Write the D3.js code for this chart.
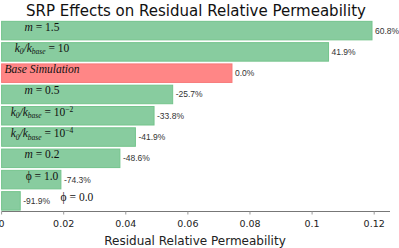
<!DOCTYPE html>
<html><head><meta charset="utf-8">
<script src="https://cdn.jsdelivr.net/npm/d3@7"></script>
<style>body{margin:0;background:#fff}svg{display:block}</style>
</head><body>
<svg id="c" width="399" height="248"></svg>
<script>
const categories = ["m15","k10","base","m05","k1e-2","k1e-4","m02","phi1","phi0"];
const labelParts = [
  [["m = 1.5",""]],
  [["k","i"],["0","sub"],["/k","i"],["base","sub"],[" = 10",""]],
  [["Base Simulation","i"]],
  [["m = 0.5",""]],
  [["k","i"],["0","sub"],["/k","i"],["base","sub"],[" = 10",""],["−2","sup"]],
  [["k","i"],["0","sub"],["/k","i"],["base","sub"],[" = 10",""],["−4","sup"]],
  [["m = 0.2",""]],
  [["ϕ = 1.0",""]],
  [["ϕ = 0.0",""]]
];
const values = [0.1193, 0.1053, 0.0742, 0.0551, 0.0491, 0.0431, 0.0381, 0.0191, 0.0060];
const changeLabels = ["60.8%","41.9%","0.0%","-25.7%","-33.8%","-41.9%","-48.6%","-74.3%","-91.9%"];
const isBase = [false,false,true,false,false,false,false,false,false];
const tickValues = [0,0.02,0.04,0.06,0.08,0.1,0.12];
const tickLabels = ["0","0.02","0.04","0.06","0.08","0.1","0.12"];
const title = "SRP Effects on Residual Relative Permeability";
const xTitle = "Residual Relative Permeability";

const svg = d3.select("#c");
const x = d3.scaleLinear().domain([0,0.125]).range([1.6, 389.7]);
const y = d3.scaleBand().domain(categories).range([20.5, 211]).paddingInner(0.13).paddingOuter(0.04);

svg.append("text").attr("x",196).attr("y",15.5).attr("text-anchor","middle")
  .attr("font-family","DejaVu Sans").attr("font-size",15).attr("fill","#111").text(title);

const g = svg.append("g");
g.selectAll("rect").data(values).join("rect")
  .attr("x", x(0)).attr("y",(d,i)=>y(categories[i]))
  .attr("width", d=>x(d)-x(0)).attr("height", y.bandwidth())
  .attr("fill",(d,i)=>isBase[i]?"#ff8686":"#88cc9f")
  .attr("stroke",(d,i)=>isBase[i]?"#f77a7a":"#74c48c").attr("stroke-width",1);

const vl = g.selectAll("text.v").data(values).join("text").attr("class","v")
  .attr("x", d=>x(d)+3).attr("y",(d,i)=>y(categories[i])+y.bandwidth()/2)
  .attr("dy","0.35em").attr("font-family","Liberation Sans, Arial").attr("font-size",8.5)
  .attr("fill","#333").text((d,i)=>changeLabels[i]);

const vEnds = vl.nodes().map(n=>{const b=n.getBBox();return b.x+b.width;});

categories.forEach((c,i)=>{
  const t = g.append("text").attr("y", y(c)+y.bandwidth()/2).attr("dy","0.35em")
    .attr("font-family","Liberation Serif, Times New Roman, serif").attr("font-size",11.5)
    .attr("fill","#111").attr("text-anchor","middle");
  labelParts[i].forEach(([s,st])=>{
    if(st===""){
      s.split(/([a-zA-Zϕ])/).forEach(p=>{ if(!p) return;
        const q = t.append("tspan").text(p);
        if(/[a-zA-Z]/.test(p)) q.attr("font-style","italic");
      });
      return;
    }
    const ts = t.append("tspan").text(s);
    if(st==="i"){ts.attr("font-style","italic");}
    else if(st==="sub"){ts.attr("font-style","italic").attr("font-size",7.5).attr("dy","2.5");}
    else if(st==="sup"){ts.attr("font-size",7.5).attr("dy","-4");}
  });
  let shift = 0;
  t.selectAll("tspan").each(function(){
    const sel = d3.select(this); const dy = +sel.attr("dy")||0;
    sel.attr("dy", dy - shift); shift = dy;
  });
  t.attr("x", 42);
  const bb = t.node().getBBox();
  const barEnd = x(values[i]);
  if (bb.x + bb.width > barEnd - 1) {
    t.attr("text-anchor","start").attr("x", vEnds[i] + 10);
  }
});

const ax = svg.append("g").attr("transform","translate(0,211.5)");
ax.append("line").attr("x1",x(0)).attr("x2",390).attr("stroke","#777").attr("stroke-width",1.2);
ax.selectAll("line.t").data(tickValues).join("line").attr("class","t")
  .attr("x1",d=>x(d)).attr("x2",d=>x(d)).attr("y1",0).attr("y2",3).attr("stroke","#999");
ax.selectAll("text").data(tickValues).join("text")
  .attr("x",d=>x(d)).attr("y",15).attr("text-anchor","middle")
  .attr("font-family","DejaVu Sans").attr("font-size",9.5).attr("fill","#222")
  .text((d,i)=>tickLabels[i]);
svg.append("text").attr("x",195).attr("y",244.5).attr("text-anchor","middle")
  .attr("font-family","DejaVu Sans").attr("font-size",12).attr("fill","#222").text(xTitle);
</script>
</body></html>
